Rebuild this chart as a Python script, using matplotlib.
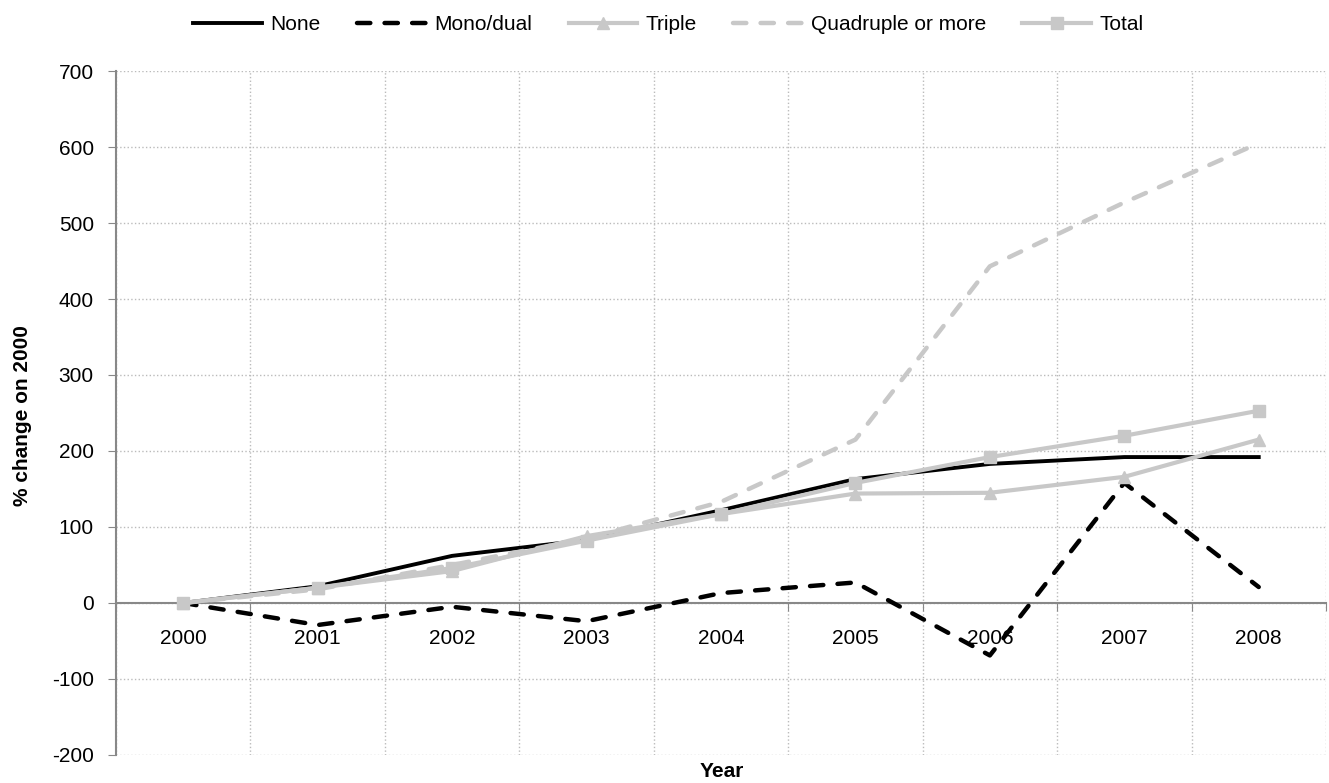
import numpy as np
import matplotlib
matplotlib.use('Agg')
import matplotlib.pyplot as plt

plt.rcParams['font.family'] = ['Liberation Sans', 'DejaVu Sans']
plt.rcParams['axes.unicode_minus'] = False

years = ['2000', '2001', '2002', '2003', '2004', '2005', '2006', '2007', '2008']
none_vals = [0, 22, 62, 83, 122, 163, 183, 192, 192]
mono_dual = [0, -29, -5, -24, 13, 27, -69, 158, 21]
triple = [0, 20, 42, 88, 117, 144, 145, 166, 215]
quad_more = [0, 18, 50, 85, 133, 215, 443, 527, 605]
total = [0, 20, 46, 82, 117, 158, 192, 220, 253]

grey = '#c8c8c8'
dash = (0, (3, 3.2))

fig = plt.figure(figsize=(13.29, 7.83), dpi=100)
ax = fig.add_axes([0.0873, 0.0358, 0.9104, 0.8735])

x = np.arange(len(years))
ax.plot(x, none_vals, color='black', lw=2.8, label='None', solid_joinstyle='round', zorder=3)
ax.plot(x, mono_dual, color='black', lw=3.2, linestyle=dash, dash_capstyle='round',
        label='Mono/dual', zorder=3)
ax.plot(x, triple, color=grey, lw=3.0, marker='^', markersize=9, label='Triple',
        solid_joinstyle='round', zorder=4)
ax.plot(x, quad_more, color=grey, lw=3.2, linestyle=dash, dash_capstyle='round',
        label='Quadruple or more', zorder=3)
ax.plot(x, total, color=grey, lw=3.0, marker='s', markersize=9, label='Total',
        solid_joinstyle='round', zorder=4)

ax.set_xlim(-0.5, len(years) - 0.5)
ax.set_ylim(-200, 700)
ax.set_yticks(np.arange(-200, 701, 100))
ax.set_xticks(np.arange(-0.5, len(years), 1))
ax.set_xticklabels([])
ax.set_xticks(x, minor=True)
ax.set_xticklabels(years, minor=True)
ax.tick_params(axis='x', which='minor', length=0, pad=19, labelsize=15)
ax.tick_params(axis='x', which='major', length=6, color='#888888')
ax.tick_params(axis='y', length=6, color='#888888', labelsize=15, pad=10)

ax.grid(True, which='major', linestyle=':', color='#bbbbbb', linewidth=1)
ax.set_axisbelow(True)
for s in ['top', 'right']:
    ax.spines[s].set_visible(False)
ax.spines['bottom'].set_position(('data', 0))
ax.spines['bottom'].set_color('#888888')
ax.spines['bottom'].set_linewidth(1.5)
ax.spines['left'].set_color('#888888')
ax.spines['left'].set_linewidth(1.5)

fig.text(0.017, 0.469, '% change on 2000', fontsize=15, fontweight='bold',
         rotation=90, ha='center', va='center')
fig.text(0.543, 0.015, 'Year', fontsize=15, fontweight='bold', ha='center', va='center')

fig.legend(loc='upper center', bbox_to_anchor=(0.503, 1.005), ncol=5,
           frameon=False, fontsize=15, handlelength=3.3, columnspacing=1.75,
           handletextpad=0.4)

fig.savefig('out.png', dpi=100)
